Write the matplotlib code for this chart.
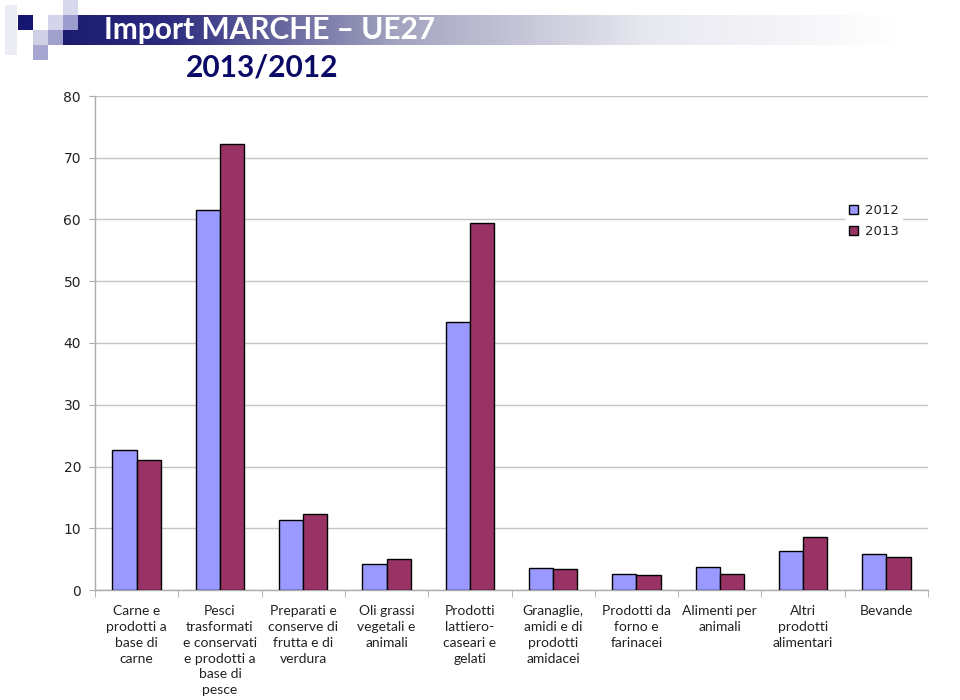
import numpy as np
import matplotlib
matplotlib.use("Agg")
import matplotlib.pyplot as plt
from matplotlib.patches import Rectangle
from matplotlib.colors import LinearSegmentedColormap

categories = [
    "Carne e\nprodotti a\nbase di\ncarne",
    "Pesci\ntrasformati\ne conservati\ne prodotti a\nbase di\npesce",
    "Preparati e\nconserve di\nfrutta e di\nverdura",
    "Oli grassi\nvegetali e\nanimali",
    "Prodotti\nlattiero-\ncaseari e\ngelati",
    "Granaglie,\namidi e di\nprodotti\namidacei",
    "Prodotti da\nforno e\nfarinacei",
    "Alimenti per\nanimali",
    "Altri\nprodotti\nalimentari",
    "Bevande",
]
values_2012 = [22.7, 61.6, 11.3, 4.2, 43.4, 3.6, 2.6, 3.7, 6.3, 5.8]
values_2013 = [21.1, 72.3, 12.3, 5.0, 59.4, 3.4, 2.4, 2.6, 8.6, 5.3]
series_labels = ["2012", "2013"]
yticks = [0, 10, 20, 30, 40, 50, 60, 70, 80]

W, H = 960, 700
fig = plt.figure(figsize=(W / 100, H / 100), dpi=100)


def fx(px):
    return px / W


def fy(py):
    return 1 - py / H


def rect(x0, y0, x1, y1, color, z=1):
    fig.patches.append(Rectangle((fx(x0), fy(y1)), fx(x1) - fx(x0), fy(y0) - fy(y1),
                                 transform=fig.transFigure, facecolor=color,
                                 edgecolor="none", zorder=z))


# header gradient bar
gax = fig.add_axes([fx(63), fy(45), fx(900) - fx(63), fy(15) - fy(45)], zorder=1)
cmap = LinearSegmentedColormap.from_list(
    "hdr", [(0.0, "#1c1c72"), (0.12, "#2a2a7e"), (0.4, "#a4a4c0"), (0.7, "#e8e8f0"), (1.0, "#ffffff")])
grad = np.linspace(0, 1, 512).reshape(1, -1)
gax.imshow(grad, aspect="auto", cmap=cmap, extent=[0, 1, 0, 1])
gax.set_axis_off()

# logo squares
rect(5, 5, 17, 55, "#ececf5")
rect(18, 15, 33, 30, "#161670")
rect(33, 30, 48, 45, "#cfcfe6")
rect(33, 45, 48, 60, "#a6a6d0")
rect(48, 15, 63, 30, "#d4d4ea")
rect(48, 30, 63, 45, "#a0a0cc")
rect(63, 0, 78, 15, "#d8d8ec")
rect(63, 15, 78, 30, "#9c9cce")

fig.text(fx(104), fy(30), "Import MARCHE \u2013 UE27", color="white", fontsize=21.5,
         fontweight="bold", family="Lato", va="center", ha="left", zorder=5)
fig.text(fx(262), fy(67), "2013/2012", color="#0a0a66", fontsize=21.5,
         fontweight="bold", family="Lato", va="center", ha="center", zorder=5)

ax = fig.add_axes([fx(95), fy(590), fx(928) - fx(95), fy(96) - fy(590)])
x = np.arange(len(categories))
bw = 0.29
ax.bar(x - bw / 2, values_2012, bw, color="#9999ff", edgecolor="black", linewidth=1,
       label=series_labels[0], zorder=3)
ax.bar(x + bw / 2, values_2013, bw, color="#993366", edgecolor="black", linewidth=1,
       label=series_labels[1], zorder=3)

ax.set_xlim(-0.5, len(categories) - 0.5)
ax.set_ylim(0, 80)
ax.set_yticks(yticks)
ax.set_yticklabels([str(v) for v in yticks], fontsize=10, family="DejaVu Sans", color="#222222")
ax.yaxis.grid(True, color="#c4c4c4", linewidth=1, zorder=0)
ax.set_axisbelow(True)

ax.set_xticks(x)
ax.set_xticklabels(categories, fontsize=10, family="Lato", color="#222222", linespacing=1.38,
                   va="top", ha="center")
ax.set_xticks(np.arange(len(categories) + 1) - 0.5, minor=True)
ax.tick_params(axis="x", which="major", length=0, pad=11)
ax.tick_params(axis="x", which="minor", length=5, color="#aaaaaa", direction="out")
ax.tick_params(axis="y", length=4, color="#aaaaaa", direction="out", pad=6)

for s in ["top", "right"]:
    ax.spines[s].set_visible(False)
for s in ["left", "bottom"]:
    ax.spines[s].set_color("#aaaaaa")
    ax.spines[s].set_linewidth(1)

leg = ax.legend(loc="upper left", bbox_to_anchor=(fx(845), fy(200)), bbox_transform=fig.transFigure,
                frameon=True, handlelength=0.7, handleheight=0.7, handletextpad=0.5,
                labelspacing=0.6, borderpad=0.3, borderaxespad=0,
                prop={"family": "DejaVu Sans", "size": 9.5})
leg.get_frame().set_edgecolor("none")
leg.get_frame().set_facecolor("white")
leg.get_frame().set_alpha(1)
for t in leg.get_texts():
    t.set_color("#222222")

fig.savefig("out.png", dpi=100)
